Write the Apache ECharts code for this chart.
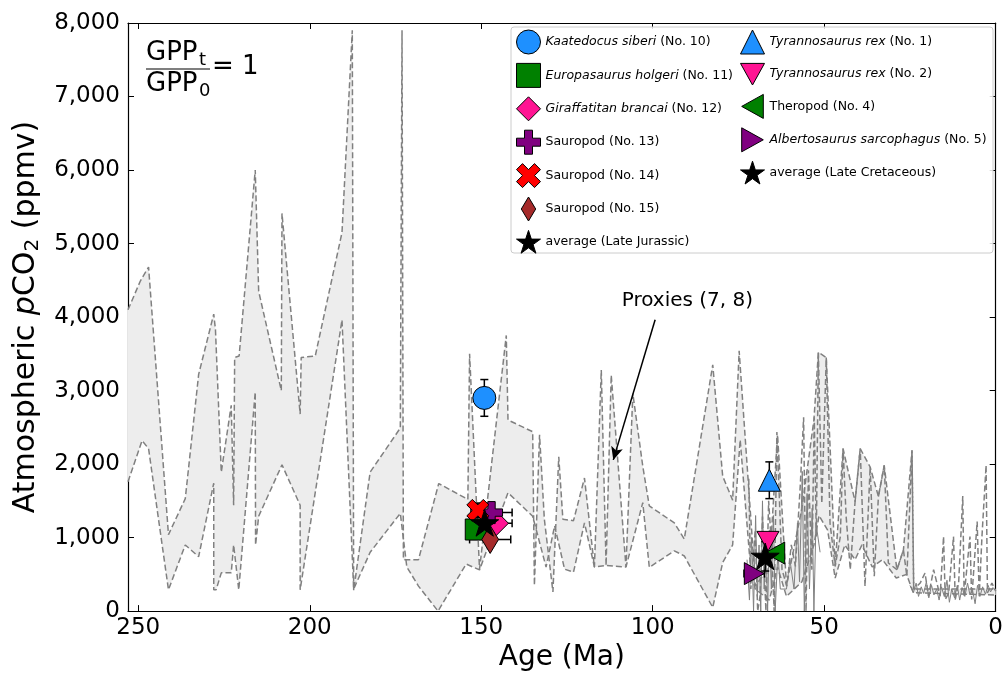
<!DOCTYPE html>
<html>
<head>
<meta charset="utf-8">
<title>Atmospheric pCO2 through the Mesozoic</title>
<script src="https://cdn.jsdelivr.net/npm/echarts@6.0.0/dist/echarts.min.js"></script>
<style>
  html, body { margin: 0; padding: 0; background: #fff; }
  #chart { width: 1006px; height: 677px; }
</style>
</head>
<body>
<div id="chart"></div>
<script>
// proxy envelope (7, 8): [age in Ma, pCO2 in ppmv]
const upperBound = [
  [253, 4100], [249.4, 4490], [247.0, 4680], [241.2, 1040], [236.3, 1530], [232.4, 3220],
  [228.0, 4040], [227.5, 3830], [225.8, 1890], [222.9, 2800], [222.2, 1440], [221.9, 3450],
  [220.6, 3470], [215.9, 6000], [214.9, 4350], [208.3, 3000], [208.1, 5410], [202.8, 2680],
  [202.5, 3450], [198.4, 3470], [190.6, 5150], [187.6, 7900], [187.2, 280], [182.4, 1890],
  [173.6, 2490], [173.1, 7900], [172.7, 700], [168.3, 700], [162.4, 1735], [153.9, 1520],
  [153.4, 3500], [150.5, 570], [142.7, 3750], [142.2, 2600], [135.0, 2440], [134.5, 350],
  [133.0, 2400], [131.6, 1250], [129.1, 260], [127.4, 2100], [126.2, 1250], [123.1, 1230],
  [119.9, 1810], [117.0, 600], [115.0, 3280], [113.6, 620], [112.1, 3210], [107.8, 600],
  [105.8, 2960], [102.9, 1970], [101.0, 1430], [93.7, 1200], [90.8, 980], [82.5, 3350],
  [79.6, 1835], [76.7, 1510], [74.8, 3540], [71.1, 1060], [70.1, 340], [66.0, 600],
  [63.6, 2400], [61.0, 350], [56.5, 1400], [53.0, 2600], [51.7, 3520], [49.4, 3450],
  [46.8, 610], [44.5, 2210], [41.0, 1490], [39.5, 2210], [36.6, 1960], [34.2, 1560],
  [32.5, 1980], [28.8, 560], [26.9, 830], [24.4, 2190], [23.9, 300], [0, 300]
];
const lowerBound = [
  [253, 1760], [248.9, 2320], [247.0, 2210], [241.2, 290], [236.3, 900], [232.4, 740],
  [228.0, 1740], [228.0, 290], [227.3, 290], [225.8, 520], [222.9, 520], [222.2, 900],
  [220.7, 290], [215.9, 2980], [215.8, 900], [214.9, 1290], [208.1, 1990], [202.8, 1440],
  [202.8, 290], [190.6, 3960], [187.2, 300], [182.4, 800], [173.6, 1330], [171.7, 600],
  [168.3, 340], [162.6, 0], [154.4, 640], [150.5, 560], [142.2, 1610], [135.0, 1290],
  [131.1, 600], [128.6, 1160], [125.7, 570], [123.1, 530], [119.9, 1200], [117.0, 600],
  [113.6, 620], [107.8, 600], [102.9, 1475], [101.0, 595], [93.7, 820], [90.8, 750],
  [82.5, 50], [79.6, 660], [76.7, 900], [74.5, 2330], [71.5, 600], [70.1, 300],
  [66.0, 150], [63.6, 600], [61.0, 200], [56.5, 400], [53.0, 900], [51.5, 1300],
  [49.0, 1100], [46.8, 450], [44.0, 900], [41.0, 700], [39.0, 900], [36.0, 600],
  [33.0, 700], [29.0, 450], [26.0, 500], [24.0, 250], [0, 220]
];
// individual proxy spikes, Late Cretaceous to present
const cenozoicSpikes = [
  [72.0, 1800], [71.4, 300], [70.1, 1105], [69.4, 0], [68.7, 203], [68.0, 1285], [67.0, 0],
  [66.2, 1500], [65.3, 834], [64.6, 0], [63.8, 2435], [62.3, 564], [60.9, 338], [59.6, 900],
  [58.4, 609], [57.0, 1691], [56.0, 2638], [55.3, 0], [54.6, 1917], [53.6, 564], [52.9, 2638],
  [52.3, 1015], [51.7, 3518], [50.7, 1466], [49.4, 3450], [48.3, 1195], [46.8, 609],
  [45.3, 1015], [44.5, 2210], [43.6, 1285], [42.4, 564], [41.0, 1488], [39.5, 2210],
  [38.1, 338], [36.6, 1962], [35.4, 474], [34.2, 1556], [32.5, 1984], [31.3, 654],
  [28.8, 564], [26.9, 834], [25.9, 474], [24.4, 2187], [23.9, 293], [22.0, 383], [20.6, 518],
  [19.6, 203], [18.1, 564], [16.2, 203], [15.2, 1015], [14.7, 158], [13.7, 248], [12.3, 1015],
  [11.8, 158], [10.8, 383], [9.6, 1565], [9.2, 203], [7.5, 1015], [7.0, 158], [5.4, 1218],
  [4.8, 203], [4.0, 1015], [2.8, 1984], [2.4, 248], [1.1, 383], [0, 270]
];
// densely sampled records, drawn solid
const denseCretaceous = [
  [72.5, 700], [71.8, 150], [71.2, 1000], [70.6, 0], [70.0, 1300], [69.5, 200], [69.0, 900],
  [68.5, 0], [68.0, 1500], [67.5, 300], [67.0, 1000], [66.5, 0], [66.0, 1100], [65.4, 300],
  [64.8, 1300], [64.3, 0], [63.5, 800], [62.8, 300], [61.0, 300], [60.0, 700], [58.8, 300],
  [57.8, 1200], [57.2, 400], [56.4, 1900], [55.8, 0], [55.0, 1600], [54.3, 300], [53.5, 1400],
  [53.0, 0], [52.4, 1200], [51.2, 800]
];
const denseNeogene = [
  [25.0, 350], [24.0, 250], [23.2, 380], [22.5, 200], [21.7, 330], [21.0, 240], [20.2, 400],
  [19.5, 180], [18.7, 350], [18.0, 220], [17.2, 300], [16.5, 150], [15.8, 330], [15.0, 200],
  [14.2, 420], [13.5, 120], [12.8, 300], [12.0, 180], [11.2, 350], [10.5, 150], [9.8, 320],
  [9.0, 200], [8.2, 380], [7.5, 220], [6.8, 300], [6.0, 100], [5.3, 350], [4.6, 200],
  [3.8, 330], [3.0, 230], [2.2, 350], [1.5, 260], [0.8, 320], [0, 280]
];

// dinosaur based estimates
const dinoNames = [
  'Kaatedocus siberi (No. 10)', 'Europasaurus holgeri (No. 11)', 'Giraffatitan brancai (No. 12)',
  'Sauropod (No. 13)', 'Sauropod (No. 14)', 'Sauropod (No. 15)', 'average (Late Jurassic)',
  'Tyrannosaurus rex (No. 1)', 'Tyrannosaurus rex (No. 2)', 'Theropod (No. 4)',
  'Albertosaurus sarcophagus (No. 5)', 'average (Late Cretaceous)'
];
const dinoAge = [149.1, 151.6, 146.0, 147.0, 151.0, 147.4, 149.0, 66.0, 66.4, 64.4, 70.4, 67.2];
const dinoPco2 = [2900, 1110, 1195, 1340, 1370, 975, 1200, 1780, 950, 790, 510, 745];
const dinoAgeErr = [0, 0, 5, 6, 0, 6, 0, 0, 0, 0, 3, 0];
const dinoPco2Err = [250, 0, 0, 0, 100, 0, 0, 250, 0, 0, 0, 200];

const legendLeft = dinoNames.slice(0, 7);
const legendRight = dinoNames.slice(7);

const FONT = 'DejaVu Sans';
const GRAY = '#808080';

// matplotlib style marker shapes
const STAR = 'path://M0,-100 L22.45,-30.9 L95.1,-30.9 L36.33,11.8 L58.78,80.9 L0,38.2 L-58.78,80.9 L-36.33,11.8 L-95.1,-30.9 L-22.45,-30.9 Z';
const PLUS = 'path://M-10,-30 L10,-30 L10,-10 L30,-10 L30,10 L10,10 L10,30 L-10,30 L-10,10 L-30,10 L-30,-10 L-10,-10 Z';
const CROSS = 'path://M141,-283 L283,-141 L141,0 L283,141 L141,283 L0,141 L-141,283 L-283,141 L-141,0 L-283,-141 L-141,-283 L0,-141 Z';
const THIN_DIAMOND = 'path://M0,-50 L30,0 L0,50 L-30,0 Z';
const TRI_DOWN = 'path://M0,0 L20,0 L10,18 Z';
const TRI_LEFT = 'path://M0,10 L18,0 L18,20 Z';
const TRI_RIGHT = 'path://M0,0 L18,10 L0,20 Z';

const markerStyle = [
  { color: '#1e90ff', symbol: 'circle', size: 23 },
  { color: '#008000', symbol: 'rect', size: 21 },
  { color: '#ff1493', symbol: 'diamond', size: 27 },
  { color: '#800080', symbol: PLUS, size: 22 },
  { color: '#ff0000', symbol: CROSS, size: 22 },
  { color: '#a52a2a', symbol: THIN_DIAMOND, size: 28 },
  { color: '#000000', symbol: STAR, size: 28 },
  { color: '#1e90ff', symbol: 'triangle', size: 22 },
  { color: '#ff1493', symbol: TRI_DOWN, size: 22 },
  { color: '#008000', symbol: TRI_LEFT, size: 22 },
  { color: '#800080', symbol: TRI_RIGHT, size: 22 },
  { color: '#000000', symbol: STAR, size: 28 }
];

// species names are set in italics
const italicPart = {
  'Kaatedocus siberi': 1, 'Europasaurus holgeri': 1, 'Giraffatitan brancai': 1,
  'Tyrannosaurus rex': 1, 'Albertosaurus sarcophagus': 1
};
function legendLabel(name) {
  for (let key in italicPart) {
    if (name.indexOf(key) === 0) {
      return '{i|' + key + '}' + name.slice(key.length);
    }
  }
  return name;
}

function renderEnvelope(params, api) {
  let pts = upperBound.concat(lowerBound.slice().reverse()).map(function (p) {
    return api.coord(p);
  });
  return { type: 'polygon', shape: { points: pts }, style: { fill: '#ededed' } };
}

function renderErrorBar(params, api) {
  let age = api.value(0), v = api.value(1), xe = api.value(2), ye = api.value(3);
  let style = { stroke: '#000', lineWidth: 1.5 };
  let children = [];
  if (ye > 0) {
    let a = api.coord([age, v + ye]), b = api.coord([age, v - ye]);
    children.push({ type: 'line', shape: { x1: a[0], y1: a[1], x2: b[0], y2: b[1] }, style: style });
    children.push({ type: 'line', shape: { x1: a[0] - 4, y1: a[1], x2: a[0] + 4, y2: a[1] }, style: style });
    children.push({ type: 'line', shape: { x1: b[0] - 4, y1: b[1], x2: b[0] + 4, y2: b[1] }, style: style });
  }
  if (xe > 0) {
    let a = api.coord([age + xe, v]), b = api.coord([age - xe, v]);
    children.push({ type: 'line', shape: { x1: a[0], y1: a[1], x2: b[0], y2: b[1] }, style: style });
    children.push({ type: 'line', shape: { x1: a[0], y1: a[1] - 4, x2: a[0], y2: a[1] + 4 }, style: style });
    children.push({ type: 'line', shape: { x1: b[0], y1: b[1] - 4, x2: b[0], y2: b[1] + 4 }, style: style });
  }
  return { type: 'group', children: children };
}

function thousands(v) {
  return String(v).replace(/\B(?=(\d{3})+(?!\d))/g, ',');
}

function proxyLine(name, data, dashed) {
  return {
    name: name, type: 'line', symbol: 'none', silent: true, z: 2, data: data,
    lineStyle: dashed
      ? { color: GRAY, width: 1.5, type: [6, 3] }
      : { color: GRAY, width: 1, type: 'solid' }
  };
}

let myChart = echarts.init(document.getElementById('chart'), null, { renderer: 'canvas' });

let series = [
  {
    name: 'envelope', type: 'custom', silent: true, z: 1,
    renderItem: renderEnvelope, data: [[0, 0]]
  },
  proxyLine('upper', upperBound, true),
  proxyLine('lower', lowerBound, true),
  proxyLine('spikes', cenozoicSpikes, true),
  proxyLine('denseK', denseCretaceous, false),
  proxyLine('denseN', denseNeogene, false),
  {
    name: 'errors', type: 'custom', silent: true, z: 3,
    renderItem: renderErrorBar,
    encode: { x: 0, y: 1 },
    data: dinoAge.map(function (a, i) {
      return [a, dinoPco2[i], dinoAgeErr[i], dinoPco2Err[i]];
    })
  }
];

// arrow and label for the proxy records
series[3].markLine = {
  silent: true,
  symbol: ['none', 'arrow'],
  symbolSize: [9, 13],
  label: { show: false },
  lineStyle: { color: '#000', width: 1.5, type: 'solid' },
  data: [[{ coord: [99.3, 3964] }, { coord: [111.5, 2057] }]]
};
series[3].markPoint = {
  silent: true,
  symbol: 'rect',
  symbolSize: 1,
  itemStyle: { color: 'rgba(0,0,0,0)' },
  label: {
    show: true, position: 'inside', formatter: 'Proxies (7, 8)',
    fontFamily: FONT, fontSize: 20, color: '#000'
  },
  data: [{ coord: [89.9, 4220] }]
};

dinoNames.forEach(function (name, i) {
  let m = markerStyle[i];
  series.push({
    name: name,
    type: 'scatter',
    z: 5,
    symbol: m.symbol,
    symbolSize: m.size,
    symbolKeepAspect: true,
    itemStyle: { color: m.color, borderColor: '#000', borderWidth: 1, opacity: 1 },
    data: [[dinoAge[i], dinoPco2[i]]]
  });
});

let legendCommon = {
  orient: 'vertical',
  top: 29.5,
  padding: 0,
  itemWidth: 24,
  itemHeight: 24,
  itemGap: 8.4,
  z: 100,
  selectedMode: false,
  formatter: legendLabel,
  itemStyle: { borderColor: '#000', borderWidth: 1 },
  textStyle: {
    fontFamily: FONT, fontSize: 12.5, color: '#000',
    rich: { i: { fontFamily: FONT, fontSize: 12.5, fontStyle: 'italic', color: '#000' } }
  }
};

let tickStyle = { show: true, inside: true, length: 6, lineStyle: { color: '#000', width: 1 } };
let axisLine = { show: true, onZero: false, lineStyle: { color: '#000', width: 1.2 } };

myChart.setOption({
  animation: false,
  backgroundColor: '#fff',
  grid: { left: 128, right: 10, top: 23, bottom: 62, containLabel: false },
  xAxis: [
    {
      type: 'value', position: 'bottom', inverse: true, min: 0, max: 253, interval: 50,
      name: 'Age (Ma)', nameLocation: 'middle', nameGap: 28,
      nameTextStyle: { fontFamily: FONT, fontSize: 28, color: '#000' },
      axisLine: axisLine, axisTick: tickStyle, splitLine: { show: false },
      axisLabel: { margin: 5, fontFamily: FONT, fontSize: 23, color: '#000', showMaxLabel: false }
    },
    {
      type: 'value', position: 'top', inverse: true, min: 0, max: 253, interval: 50,
      axisLine: axisLine, axisTick: tickStyle, splitLine: { show: false },
      axisLabel: { show: false }
    }
  ],
  yAxis: [
    {
      type: 'value', position: 'left', min: 0, max: 8000, interval: 1000,
      name: '{a|Atmospheric }{i|p}{a|CO}{s|2}{a| (ppmv)}',
      nameLocation: 'middle', nameGap: 80,
      nameTextStyle: {
        fontFamily: FONT, fontSize: 30, color: '#000',
        rich: {
          a: { fontFamily: FONT, fontSize: 30, color: '#000' },
          i: { fontFamily: FONT, fontSize: 30, fontStyle: 'italic', color: '#000' },
          s: { fontFamily: FONT, fontSize: 20, color: '#000', padding: [14, 0, 0, 0] }
        }
      },
      axisLine: axisLine, axisTick: tickStyle, splitLine: { show: false },
      axisLabel: { margin: 8, fontFamily: FONT, fontSize: 23, color: '#000', formatter: thousands }
    },
    {
      type: 'value', position: 'right', min: 0, max: 8000, interval: 1000,
      axisLine: axisLine, axisTick: tickStyle, splitLine: { show: false },
      axisLabel: { show: false }
    }
  ],
  legend: [
    Object.assign({}, legendCommon, { left: 516, data: legendLeft }),
    Object.assign({}, legendCommon, { left: 740, data: legendRight })
  ],
  graphic: [
    {
      // legend frame
      type: 'rect', z: 90, silent: true,
      shape: { x: 511, y: 27, width: 482, height: 226, r: 3 },
      style: { fill: 'rgba(255,255,255,0.85)', stroke: '#cccccc', lineWidth: 1 }
    },
    // GPP_t / GPP_0 = 1
    { type: 'text', z: 90, x: 146, y: 53, style: { text: 'GPP', font: '26px "DejaVu Sans"', fill: '#000', verticalAlign: 'middle' } },
    { type: 'text', z: 90, x: 199, y: 60, style: { text: 't', font: '18px "DejaVu Sans"', fill: '#000', verticalAlign: 'middle' } },
    { type: 'line', z: 90, shape: { x1: 146, y1: 69, x2: 210, y2: 69 }, style: { stroke: '#000', lineWidth: 1.2 } },
    { type: 'text', z: 90, x: 146, y: 84, style: { text: 'GPP', font: '26px "DejaVu Sans"', fill: '#000', verticalAlign: 'middle' } },
    { type: 'text', z: 90, x: 199, y: 91, style: { text: '0', font: '18px "DejaVu Sans"', fill: '#000', verticalAlign: 'middle' } },
    { type: 'text', z: 90, x: 212, y: 67, style: { text: '= 1', font: '26px "DejaVu Sans"', fill: '#000', verticalAlign: 'middle' } }
  ],
  series: series
});
</script>
</body>
</html>
